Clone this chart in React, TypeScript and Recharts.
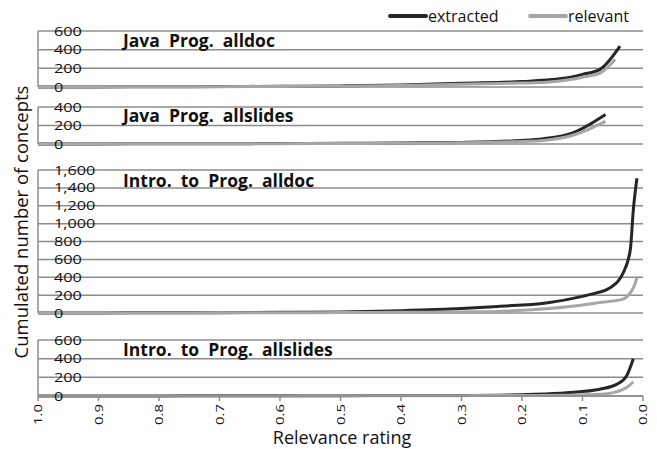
import React from 'react';
import { LineChart, Line, XAxis, YAxis, CartesianGrid } from 'recharts';

// Java Prog. alldoc
const javaDocRating = [1.0, 0.9, 0.8, 0.7, 0.6, 0.5, 0.4, 0.3, 0.2, 0.16, 0.12, 0.1, 0.071, 0.046, 0.038];
const javaDocExtracted = [0, 1, 3, 5, 8, 12, 22, 40, 58, 74, 105, 135, 189, null, 437];
const javaDocRelevant = [0, 1, 2, 4, 6, 9, 16, 30, 42, 50, 80, 105, 148, 296, null];

// Java Prog. allslides
const javaSlidesRating = [1.0, 0.9, 0.8, 0.7, 0.6, 0.5, 0.4, 0.3, 0.2, 0.165, 0.116, 0.062];
const javaSlidesExtracted = [0, 1, 2, 3, 5, 7, 11, 17, 38, 57, 121, 320];
const javaSlidesRelevant = [0, 1, 2, 3, 4, 5, 8, 13, 28, 38, 94, 245];

// Intro. to Prog. alldoc
const introDocRating = [1.0, 0.9, 0.8, 0.7, 0.6, 0.5, 0.4, 0.3, 0.24, 0.16, 0.1, 0.077, 0.055, 0.033, 0.021, 0.016, 0.01];
const introDocExtracted = [0, 1, 2, 4, 7, 12, 26, 50, 74, 112, 186, 225, 279, 447, 707, 1154, 1508];
const introDocRelevant = [0, 1, 1, 2, 3, 5, 8, 12, 18, 48, 90, 112, 130, 156, 225, 280, 391];

// Intro. to Prog. allslides
const introSlidesRating = [1.0, 0.9, 0.8, 0.7, 0.6, 0.5, 0.4, 0.3, 0.24, 0.18, 0.126, 0.071, 0.043, 0.027, 0.016];
const introSlidesExtracted = [0, 0, 1, 2, 3, 4, 5, 6, 8, 18, 36, 73, 127, 218, 400];
const introSlidesRelevant = [0, 0, 0, 1, 1, 2, 3, 4, 5, 6, 8, 18, 47, 91, 153];

const ticks600 = [0, 200, 400, 600];
const ticks400 = [0, 200, 400];
const ticks1600 = [0, 200, 400, 600, 800, 1000, 1200, 1400, 1600];
const ratingTicks = [0, 0.1, 0.2, 0.3, 0.4, 0.5, 0.6, 0.7, 0.8, 0.9, 1.0];

const W = 657;
const PLOT_LEFT = 38;
const PLOT_RIGHT = 643;
const PAD = 10;
const FONT = '"Open Sans", sans-serif';
const DARK = '#262626';
const LIGHT = '#a6a6a6';
const GRID = '#8c8c8c';

const YTick = (props: any) => {
  const { y, payload } = props;
  return (
    <text
      transform={`translate(54 ${y + 4.5}) scale(1.3 1)`}
      fontSize={12.5}
      fontFamily={FONT}
      fill="#111"
    >
      {Number(payload.value).toLocaleString('en-US')}
    </text>
  );
};

const XTick = (props: any) => {
  const { x, y, payload } = props;
  return (
    <text
      transform={`translate(${x + 4} ${y}) rotate(-90) scale(1.3 1)`}
      fontSize={11.5}
      fontFamily={FONT}
      fill="#111"
      textAnchor="end"
    >
      {Number(payload.value).toFixed(1)}
    </text>
  );
};

interface PanelProps {
  top: number;
  height: number;
  rating: number[];
  extracted: (number | null)[];
  relevant: (number | null)[];
  max: number;
  ticks: number[];
  showX?: boolean;
}

function Panel({ top, height, rating, extracted, relevant, max, ticks, showX }: PanelProps) {
  const data = rating.map((r, i) => ({ rating: r, extracted: extracted[i], relevant: relevant[i] }));
  const xHeight = showX ? 40 : 0;
  const bottom = showX ? 0 : PAD;
  return (
    <div style={{ position: 'absolute', left: 0, top: top - PAD }}>
      <LineChart
        width={W}
        height={height + PAD + bottom + xHeight}
        data={data}
        margin={{ top: PAD, right: W - PLOT_RIGHT, bottom, left: PLOT_LEFT }}
      >
        <CartesianGrid vertical={false} stroke={GRID} strokeWidth={1.5} />
        <XAxis
          dataKey="rating"
          type="number"
          domain={[0, 1]}
          reversed
          ticks={ratingTicks}
          hide={!showX}
          height={xHeight}
          stroke={GRID}
          strokeWidth={1.5}
          tickSize={5}
          tickMargin={3}
          tick={<XTick />}
          interval={0}
        />
        <YAxis
          type="number"
          domain={[0, max]}
          ticks={ticks}
          mirror
          tickLine={false}
          stroke={GRID}
          strokeWidth={1.5}
          tick={<YTick />}
          interval={0}
        />
        <Line
          dataKey="extracted"
          type="monotone"
          stroke={DARK}
          strokeWidth={3}
          dot={false}
          connectNulls
          isAnimationActive={false}
        />
        <Line
          dataKey="relevant"
          type="monotone"
          stroke={LIGHT}
          strokeWidth={3}
          dot={false}
          connectNulls
          isAnimationActive={false}
        />
      </LineChart>
    </div>
  );
}

const titleStyle: React.CSSProperties = { whiteSpace: 'pre' };

export default function App() {
  return (
    <div style={{ position: 'absolute', left: 0, top: 0, width: W, height: 449, background: '#fff', overflow: 'hidden' }}>
      <Panel top={31} height={56} rating={javaDocRating} extracted={javaDocExtracted} relevant={javaDocRelevant} max={600} ticks={ticks600} />
      <Panel top={107} height={37} rating={javaSlidesRating} extracted={javaSlidesExtracted} relevant={javaSlidesRelevant} max={400} ticks={ticks400} />
      <Panel top={170} height={143} rating={introDocRating} extracted={introDocExtracted} relevant={introDocRelevant} max={1600} ticks={ticks1600} />
      <Panel top={340} height={56} rating={introSlidesRating} extracted={introSlidesExtracted} relevant={introSlidesRelevant} max={600} ticks={ticks600} showX />
      <svg width={W} height={449} style={{ position: 'absolute', left: 0, top: 0, pointerEvents: 'none' }} fontFamily={FONT}>
        {/* legend */}
        <line x1={390} y1={16} x2={426} y2={16} stroke={DARK} strokeWidth={4} strokeLinecap="round" />
        <text x={428} y={21.5} fontSize={16} fill="#111">extracted</text>
        <line x1={530} y1={16} x2={566} y2={16} stroke={LIGHT} strokeWidth={4} strokeLinecap="round" />
        <text x={568} y={21.5} fontSize={16} fill="#111">relevant</text>
        {/* panel titles */}
        <text x={123} y={46.5} fontSize={17.5} fontWeight="bold" fill="#111" style={titleStyle}>Java  Prog.  alldoc</text>
        <text x={123} y={121.5} fontSize={17.5} fontWeight="bold" fill="#111" style={titleStyle}>Java  Prog.  allslides</text>
        <text x={123} y={186.5} fontSize={17.5} fontWeight="bold" fill="#111" style={titleStyle}>Intro.  to  Prog.  alldoc</text>
        <text x={123} y={356} fontSize={17.5} fontWeight="bold" fill="#111" style={titleStyle}>Intro.  to  Prog.  allslides</text>
        {/* axis titles */}
        <text transform="translate(28 222) rotate(-90)" textAnchor="middle" fontSize={18.5} fill="#111">Cumulated number of concepts</text>
        <text x={342} y={444} textAnchor="middle" fontSize={18} fill="#111">Relevance rating</text>
      </svg>
    </div>
  );
}
